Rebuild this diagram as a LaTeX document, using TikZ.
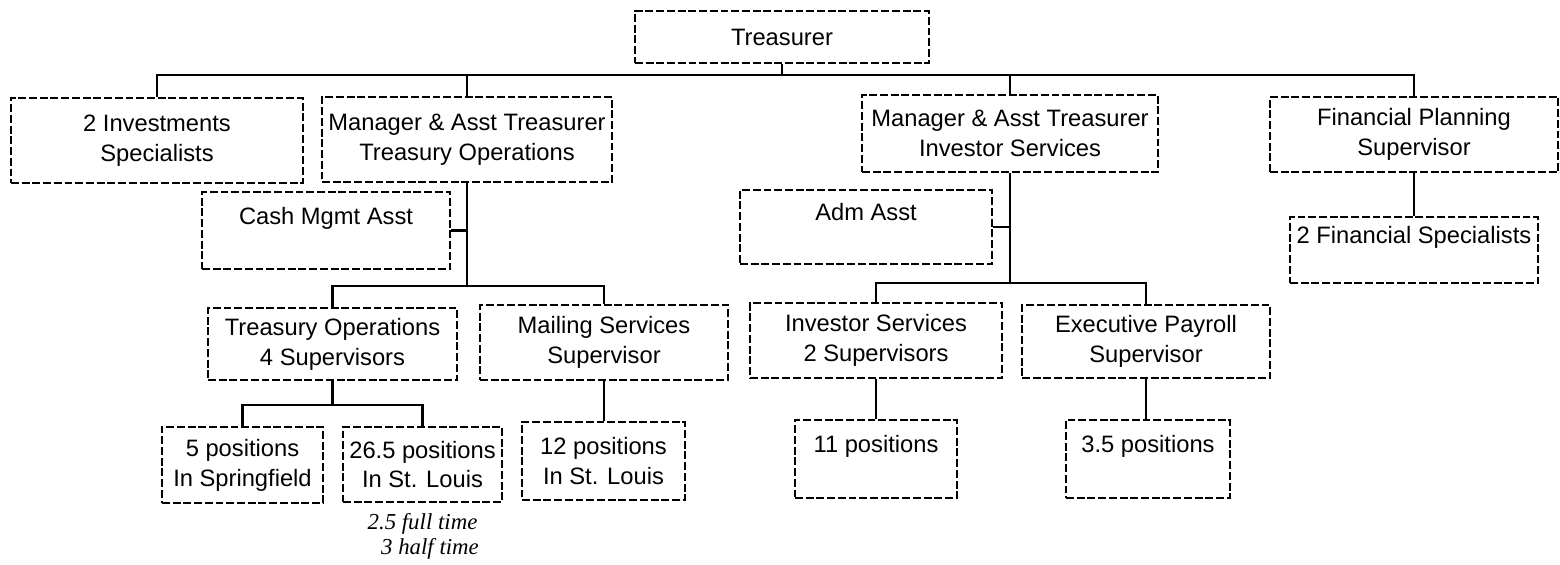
\documentclass[tikz,border=0pt]{standalone}
\usepackage{fontspec}
\setmainfont{Liberation Sans}
\newfontfamily\handfont{Liberation Serif}
\usetikzlibrary{positioning}
\def\px{0.02cm}
\tikzset{
semithick, % all lines semithick
box/.style={draw,rectangle,dash pattern=on 4.5pt off 1.6pt,line width=1pt,
  align=center,inner sep=0pt,font=\fontsize{13.5}{17}\selectfont},
sz/.style 2 args={minimum width=#1*\px,minimum height=#2*\px},
link/.style={line width=1.3pt},
hand/.style={font=\handfont\itshape\fontsize{13}{15}\selectfont,inner sep=0pt},
}
\begin{document}
\begin{tikzpicture}[x=\px,y=-\px]
\useasboundingbox (0,0) rectangle (1560,565);
% top level
\node[box,sz={294}{52}] (tr) at (782,37) {Treasurer};
\node[box,sz={292}{85}] (inv) at (157,140.5) {2 Investments\\Specialists};
\node[box,sz={290}{85}] (mto) at (467,139.5) {Manager \& Asst Treasurer\\Treasury Operations};
\node[box,sz={296}{77}] (mis) at (1010,133.5) {Manager \& Asst Treasurer\\Investor Services};
\node[box,sz={288}{75}] (fp) at (1414,134.5) {Financial Planning\\Supervisor};
% assistants
\node[box,sz={248}{77}] (cash) at (326,230.5) {Cash Mgmt Asst\\ \mbox{}};
\node[box,sz={252}{74}] (adm) at (866,227) {Adm Asst\\ \mbox{}};
\node[box,sz={248}{66}] (fin2) at (1414,250) {2 Financial Specialists\\ \mbox{}};
% supervisors
\node[box,sz={249}{72}] (tos) at (332.5,344) {Treasury Operations\\4 Supervisors};
\node[box,sz={248}{75}] (mail) at (604,342.5) {Mailing Services\\Supervisor};
\node[box,sz={252}{75}] (iss) at (876,340.5) {Investor Services\\2 Supervisors};
\node[box,sz={248}{73}] (ep) at (1146,341.5) {Executive Payroll\\Supervisor};
% positions
\node[box,sz={161}{76}] (p5) at (242.5,465) {5 positions\\In Springfield};
\node[box,sz={159}{75}] (p265) at (422.5,464.5) {26.5 positions\\In St. Louis};
\node[box,sz={163}{78}] (p12) at (603.5,461) {12 positions\\In St. Louis};
\node[box,sz={162}{78}] (p11) at (876,459) {11 positions\\ \mbox{}};
\node[box,sz={164}{78}] (p35) at (1148,459) {3.5 positions\\ \mbox{}};
\node[hand,below=0.2cm of p265] (note1) {2.5 full time};
\node[hand,below=0.08cm of note1,xshift=0.15cm] (note2) {3 half time};
% connectors
\coordinate (bus0) at (0,75);
\coordinate (busa) at (0,286);
\coordinate (busb) at (0,283);
\coordinate (busc) at (0,405);
\draw[link] (tr.south) -- (tr.south |- bus0);
\draw[link] (inv.north) -- (inv.north |- bus0) -- (fp.north |- bus0) -- (fp.north);
\draw[link] (mto.north) -- (mto.north |- bus0);
\draw[link] (mis.north) -- (mis.north |- bus0);
\draw[link] (mto.south) -- (mto.south |- busa);
\draw[link] (cash.east) -- (cash.east -| mto.south);
\draw[link] (tos.north) -- (tos.north |- busa) -- (mail.north |- busa) -- (mail.north);
\draw[link] (mis.south) -- (mis.south |- busb);
\draw[link] (adm.east) -- (adm.east -| mis.south);
\draw[link] (iss.north) -- (iss.north |- busb) -- (ep.north |- busb) -- (ep.north);
\draw[link] (fp.south) -- (fin2.north);
\draw[link] (tos.south) -- (tos.south |- busc);
\draw[link] (p5.north) -- (p5.north |- busc) -- (p265.north |- busc) -- (p265.north);
\draw[link] (mail.south) -- (mail.south |- p12.north);
\draw[link] (iss.south) -- (p11.north);
\draw[link] (ep.south) -- (ep.south |- p35.north);
\end{tikzpicture}
\end{document}
